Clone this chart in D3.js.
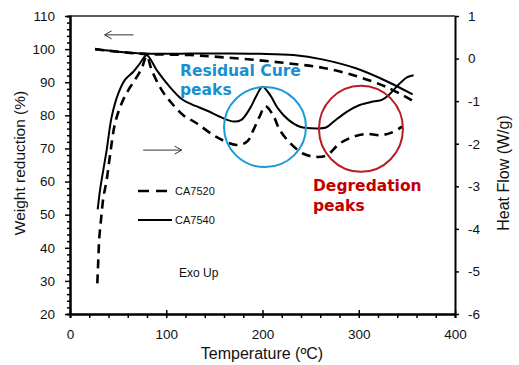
<!DOCTYPE html>
<html>
<head>
<meta charset="utf-8">
<script src="https://cdn.jsdelivr.net/npm/d3@7"></script>
<style>
  body { margin: 0; background: #fff; }
  text { font-family: "Liberation Sans", Arial, sans-serif; }
</style>
</head>
<body>
<div id="chart"></div>
<script>
// TGA (left axis, weight %)
const tgaTemp7520 = [26, 50, 80, 125, 160, 197, 230, 262, 298, 330, 356];
const tga7520 = [100, 99.2, 98.5, 98.2, 97.5, 96.6, 95.6, 94.4, 91.8, 88.4, 84.4];
const tgaTemp7540 = [26, 50, 80, 125, 160, 197, 232, 262, 297, 329, 356];
const tga7540 = [100, 99.2, 98.6, 98.7, 98.7, 98.6, 98.2, 96.9, 94.2, 90.3, 86.3];

// DSC (right axis, heat flow W/g)
const dscTemp7520 = [28.4, 29.4, 30.4, 32.2, 34.6, 38.1, 41.6, 46.8, 53.7, 60.6, 67.5, 74.5, 79.7,
  84.9, 95.3, 105.7, 117.7, 131.6, 152, 173, 184, 190.5, 197, 203, 211, 218, 229, 242, 256, 267,
  280.5, 294, 308, 322, 334, 345];
const dsc7520 = [-5.28, -4.73, -4.22, -3.79, -3.28, -2.85, -2.27, -1.52, -1.05, -0.74, -0.5, -0.23, 0.06,
  -0.27, -0.74, -1.05, -1.33, -1.52, -1.84, -2.03, -1.95, -1.68, -1.36, -1.12, -1.33, -1.68, -1.99, -2.23, -2.31, -2.27,
  -1.99, -1.84, -1.77, -1.8, -1.74, -1.6];
const dscTemp7540 = [28.8, 31.2, 34.6, 38.1, 43.3, 50.2, 57.1, 65.8, 72.7, 79.7,
  90.1, 102, 116, 126, 142, 159, 170, 178, 187, 194, 200, 208, 216, 227, 239, 256, 266,
  274, 287.5, 301, 315, 324, 331, 341, 350, 357];
const dsc7540 = [-3.54, -3.09, -2.62, -2.15, -1.37, -0.82, -0.5, -0.31, -0.11, 0.08,
  -0.27, -0.62, -0.95, -1.07, -1.22, -1.4, -1.48, -1.44, -1.17, -0.86, -0.66, -0.86, -1.17, -1.44, -1.6, -1.64, -1.62,
  -1.48, -1.25, -1.09, -1.01, -0.97, -0.86, -0.62, -0.44, -0.39];

const xTicks = [0, 100, 200, 300, 400];
const yLeftTicks = [20, 30, 40, 50, 60, 70, 80, 90, 100, 110];
const yRightTicks = [-6, -5, -4, -3, -2, -1, 0, 1];

const width = 519;
const height = 365;

const svg = d3.select('#chart').append('svg')
  .attr('width', width)
  .attr('height', height);

svg.append('rect').attr('width', width).attr('height', height).attr('fill', '#fff');

/* Scales */
const xScale = d3.scaleLinear().domain([0, 400]).range([70, 455]);
const yLeft = d3.scaleLinear().domain([20, 110]).range([314, 16]);
const yRight = d3.scaleLinear().domain([-6, 1]).range([314, 16]);

/* Axes */
function styleAxis(g, w) {
  g.select('.domain').attr('stroke', '#000').attr('stroke-width', w);
  g.selectAll('.tick line').attr('stroke', '#000').attr('stroke-width', 1.5);
  g.selectAll('.tick text').attr('fill', '#111').style('font-size', '13.5px')
    .style('font-family', '"Liberation Sans", Arial, sans-serif');
}

// top border
svg.append('line')
  .attr('x1', xScale(0)).attr('x2', xScale(400))
  .attr('y1', yLeft(110)).attr('y2', yLeft(110))
  .attr('stroke', '#222').attr('stroke-width', 1.5);

const minorX = d3.range(20, 400, 20).filter(d => d % 100 !== 0);
svg.append('g')
  .attr('transform', `translate(0, ${yLeft(20)})`)
  .call(d3.axisBottom(xScale).tickValues(minorX).tickSize(4).tickFormat(''))
  .call(g => styleAxis(g, 2));

svg.append('g')
  .attr('transform', `translate(0, ${yLeft(20)})`)
  .call(d3.axisBottom(xScale).tickValues(xTicks).tickSizeInner(4).tickSizeOuter(0).tickPadding(11))
  .call(g => styleAxis(g, 2))
  .call(g => g.selectAll('.tick line').attr('y1', -4));

const minorY = d3.range(20, 110, 2).filter(d => d % 10 !== 0);
svg.append('g')
  .attr('transform', `translate(${xScale(0)}, 0)`)
  .call(d3.axisLeft(yLeft).tickValues(minorY).tickSize(3).tickFormat(''))
  .call(g => styleAxis(g, 2));

svg.append('g')
  .attr('transform', `translate(${xScale(0)}, 0)`)
  .call(d3.axisLeft(yLeft).tickValues(yLeftTicks).tickSizeInner(5).tickSizeOuter(0).tickPadding(10))
  .call(g => styleAxis(g, 2));

svg.append('g')
  .attr('transform', `translate(${xScale(400)}, 0)`)
  .call(d3.axisRight(yRight).tickValues(yRightTicks).tickSizeInner(4).tickSizeOuter(0).tickPadding(9)
    .tickFormat(d => String(d)))
  .call(g => styleAxis(g, 2));

/* Axis titles */
svg.append('text')
  .attr('x', 262).attr('y', 359)
  .attr('text-anchor', 'middle')
  .style('font-size', '16px').attr('fill', '#111')
  .text('Temperature (ºC)');

svg.append('text')
  .attr('transform', 'translate(25, 163) rotate(-90)')
  .attr('text-anchor', 'middle')
  .style('font-size', '15.5px').attr('fill', '#111')
  .text('Weight reduction (%)');

svg.append('text')
  .attr('transform', 'translate(509, 173) rotate(-90)')
  .attr('text-anchor', 'middle')
  .style('font-size', '16px').attr('fill', '#111')
  .text('Heat Flow (W/g)');

/* Lines */
const pts = (xs, ys) => xs.map((t, i) => ({ t, v: ys[i] }));

const lineLeft = d3.line()
  .x(d => xScale(d.t))
  .y(d => yLeft(d.v))
  .curve(d3.curveCatmullRom.alpha(0.5));

const lineRight = d3.line()
  .x(d => xScale(d.t))
  .y(d => yRight(d.v))
  .curve(d3.curveCatmullRom.alpha(0.5));

const series = [
  { d: lineLeft(pts(tgaTemp7520, tga7520)), dashed: true },
  { d: lineLeft(pts(tgaTemp7540, tga7540)), dashed: false },
  { d: lineRight(pts(dscTemp7520, dsc7520)), dashed: true },
  { d: lineRight(pts(dscTemp7540, dsc7540)), dashed: false }
];

svg.append('g').selectAll('path')
  .data(series).enter()
  .append('path')
  .attr('d', s => s.d)
  .attr('fill', 'none')
  .attr('stroke', '#000')
  .attr('stroke-width', s => s.dashed ? 2.6 : 2)
  .attr('stroke-dasharray', s => s.dashed ? '9,6' : null);

/* Annotation circles */
svg.append('ellipse')
  .attr('cx', xScale(202.6)).attr('cy', yRight(-1.61))
  .attr('rx', 41).attr('ry', 40)
  .attr('fill', 'none').attr('stroke', '#1b9ad6').attr('stroke-width', 2);

svg.append('ellipse')
  .attr('cx', xScale(302.3)).attr('cy', yRight(-1.65))
  .attr('rx', 42).attr('ry', 43)
  .attr('fill', 'none').attr('stroke', '#b81c24').attr('stroke-width', 2);

/* Annotation text */
const blueText = svg.append('text')
  .style('font-family', '"DejaVu Sans", sans-serif')
  .style('font-size', '15.5px').style('font-weight', 'bold')
  .attr('fill', '#1a8fd0');
blueText.append('tspan').attr('x', 180).attr('y', 76).text('Residual Cure');
blueText.append('tspan').attr('x', 180).attr('y', 95).text('peaks');

const redText = svg.append('text')
  .style('font-family', '"DejaVu Sans", sans-serif')
  .style('font-size', '15.5px').style('font-weight', 'bold')
  .attr('fill', '#c00000');
redText.append('tspan').attr('x', 313).attr('y', 191).text('Degredation');
redText.append('tspan').attr('x', 313).attr('y', 211).text('peaks');

/* Arrows */
function arrow(x1, x2, y, dir) {
  const g = svg.append('g').attr('stroke', '#333').attr('stroke-width', 1).attr('fill', 'none');
  g.append('line').attr('x1', x1).attr('x2', x2).attr('y1', y).attr('y2', y);
  const tip = dir < 0 ? x1 : x2;
  g.append('path').attr('d', `M${tip - dir * 7},${y - 4}L${tip},${y}L${tip - dir * 7},${y + 4}`);
}
arrow(xScale(36), xScale(66), yLeft(104.3), -1);
arrow(xScale(76), xScale(116), yLeft(69.5), 1);

/* Legend */
const legend = [
  { name: 'CA7520', y: 191, dashed: true },
  { name: 'CA7540', y: 220, dashed: false }
];
const lg = svg.append('g');
lg.selectAll('line')
  .data(legend).enter()
  .append('line')
  .attr('x1', 138).attr('x2', 172)
  .attr('y1', d => d.y).attr('y2', d => d.y)
  .attr('stroke', '#000')
  .attr('stroke-width', d => d.dashed ? 2.6 : 2)
  .attr('stroke-dasharray', d => d.dashed ? '11,7' : null);
lg.selectAll('text')
  .data(legend).enter()
  .append('text')
  .attr('x', 175).attr('y', d => d.y + 4)
  .style('font-size', '11px').attr('fill', '#111')
  .text(d => d.name);

svg.append('text')
  .attr('x', 179).attr('y', 277)
  .style('font-size', '12px').attr('fill', '#111')
  .text('Exo Up');
</script>
</body>
</html>
